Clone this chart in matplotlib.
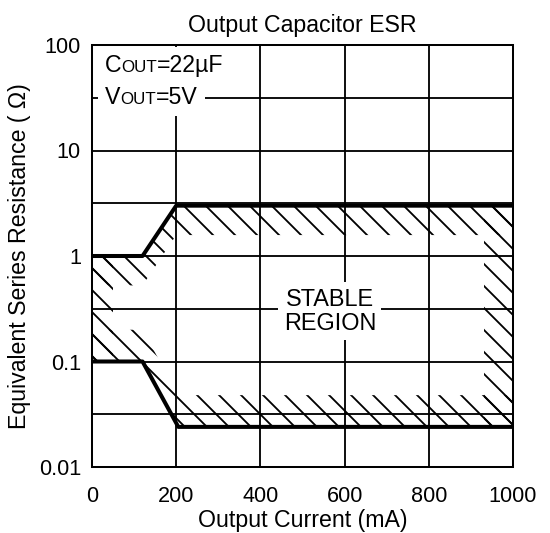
import matplotlib
matplotlib.use("Agg")
import matplotlib.pyplot as plt
from matplotlib.ticker import FixedLocator, NullFormatter
from matplotlib.offsetbox import TextArea, HPacker, AnchoredOffsetbox

# boundary of the stable region (mA, ohm)
upper_x = [0, 120, 200, 1000]
upper_esr = [1.0, 1.0, 3.0, 3.0]
lower_x = [0, 120, 205, 1000]
lower_esr = [0.1, 0.1, 0.024, 0.024]

x_ticks = [0, 200, 400, 600, 800, 1000]
y_ticks = [0.01, 0.1, 1, 10, 100]
y_tick_labels = ["0.01", "0.1", "1", "10", "100"]
y_half = [10 ** -1.5, 10 ** -0.5, 10 ** 0.5, 10 ** 1.5]

DPI = 132
plt.rcParams['font.family'] = ['Liberation Sans', 'DejaVu Sans']
plt.rcParams['hatch.linewidth'] = 1.0

fig = plt.figure(figsize=(550 / DPI, 533 / DPI), dpi=DPI)
ax = fig.add_axes([92 / 550, 1 - 467 / 533, 421 / 550, 422 / 533])
ax.set_yscale('log')
ax.set_xlim(0, 1000)
ax.set_ylim(0.01, 100)

ax.xaxis.set_major_locator(FixedLocator(x_ticks))
ax.yaxis.set_major_locator(FixedLocator(y_ticks))
ax.yaxis.set_minor_locator(FixedLocator(y_half))
ax.yaxis.set_minor_formatter(NullFormatter())
ax.set_yticklabels(y_tick_labels)
ax.tick_params(axis='both', which='both', length=0, labelsize=11.8)
ax.tick_params(axis='y', pad=6)
ax.tick_params(axis='x', pad=10.5)
ax.grid(True, which='both', color='black', linewidth=1.0)
ax.set_axisbelow(True)
for s in ax.spines.values():
    s.set_linewidth(1.1)

# hatched bands inside the stable region
hatch_kw = dict(facecolor='none', edgecolor='black', linewidth=0, hatch='\\\\', zorder=2)
ax.fill_between(upper_x, [v / 1.9 for v in upper_esr], upper_esr, **hatch_kw)
ax.fill_between(lower_x, lower_esr, [v * 2.0 for v in lower_esr], **hatch_kw)
ax.fill_between([0, 50], [lower_esr[0]] * 2, [upper_esr[0]] * 2, **hatch_kw)
ax.fill_between([930, 1000], [lower_esr[-1]] * 2, [upper_esr[-1]] * 2, **hatch_kw)

ax.plot(upper_x, upper_esr, color='black', linewidth=2.2, zorder=3)
ax.plot(lower_x, lower_esr, color='black', linewidth=2.2, zorder=3)

ax.text(565, 0.3, "STABLE\nREGION", ha='center', va='center', fontsize=12.8,
        linespacing=1.05, zorder=4,
        bbox=dict(facecolor='white', edgecolor='none', pad=3))

ax.set_title("Output Capacitor ESR", fontsize=12.6, pad=7)
ax.set_xlabel("Output Current (mA)", fontsize=12.6, labelpad=1)
ax.set_ylabel("Equivalent Series Resistance ( Ω)", fontsize=12.6, labelpad=4)


def cond_label(big, small, rest, yfrac):
    parts = [TextArea(big, textprops=dict(size=12.6)),
             TextArea(small, textprops=dict(size=9.3)),
             TextArea(rest, textprops=dict(size=12.6))]
    row = HPacker(children=parts, align='baseline', pad=0, sep=0)
    box = AnchoredOffsetbox(loc='center left', child=row, pad=0.3, borderpad=0,
                            frameon=True, prop=dict(size=12.6),
                            bbox_to_anchor=(0.014, yfrac),
                            bbox_transform=ax.transAxes)
    box.patch.set(facecolor='white', edgecolor='none')
    box.set_zorder(5)
    ax.add_artist(box)


cond_label("C", "OUT", "=22µF", 0.952)
cond_label("V", "OUT", "=5V", 0.876)

fig.savefig("out.png", dpi=DPI)
